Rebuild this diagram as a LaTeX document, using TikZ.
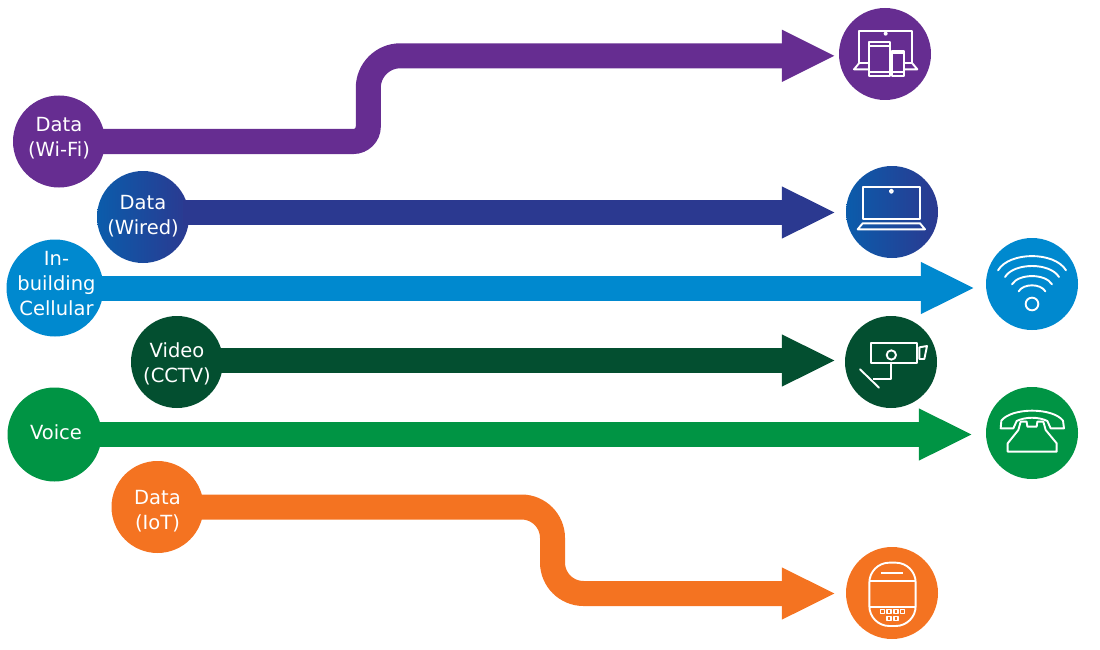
\documentclass[tikz,border=0pt]{standalone}
\usepackage{fontspec}
\setmainfont{DejaVu Sans}
\usetikzlibrary{arrows.meta}
\definecolor{cpurple}{HTML}{662D91}
\definecolor{cindigo}{HTML}{2B3990}
\definecolor{cblue}{HTML}{0B5CAB}
\definecolor{ccyan}{HTML}{0089CF}
\definecolor{cdark}{HTML}{034F30}
\definecolor{cgreen}{HTML}{009444}
\definecolor{corange}{HTML}{F47321}
\newcommand\lbl[2]{\raisebox{#1}[0pt][0pt]{\begin{tabular}{@{}c@{}}#2\end{tabular}}}
\tikzset{
  disc/.style={circle,inner sep=0pt,minimum size=92pt,text=white,
    font=\fontsize{19.5}{25}\selectfont},
  flow/.style={line width=25pt,-{Triangle[width=48pt,length=54pt]},shorten <=-6pt},
  glyph/.style={draw=white,line width=1.9pt,line join=round,fill=none},
  iconat/.style={shift={(#1)},x=0.33333pt,y=-0.33333pt}
}
\begin{document}
\begin{tikzpicture}[x=1pt,y=-1pt]
\useasboundingbox (0,0) rectangle (1100,650);
% left discs
\node[disc,fill=cpurple] (a) at (59,141.5) {\lbl{-2.7pt}{Data\\(Wi-Fi)}};
\node[disc,left color=cblue,right color=cindigo] (b) at (143,217) {\lbl{-5.5pt}{Data\\(Wired)}};
\node[disc,fill=ccyan,minimum size=97pt] (c) at (55,288) {\hspace*{3pt}\lbl{-3pt}{In-\\building\\Cellular}};
\node[disc,fill=cdark] (d) at (177,362) {\lbl{-8pt}{Video\\(CCTV)}};
\node[disc,fill=cgreen,minimum size=94pt] (e) at (54.5,434.5) {\hspace*{3pt}\lbl{-4.8pt}{Voice}};
\node[disc,fill=corange] (f) at (157.5,507) {\lbl{-10.3pt}{Data\\(IoT)}};
% right discs
\node[disc,fill=cpurple] (ta) at (885,54) {};
\node[disc,left color=cblue,right color=cindigo] (tb) at (892,212) {};
\node[disc,fill=ccyan] (tc) at (1032,284) {};
\node[disc,fill=cdark] (td) at (891,362) {};
\node[disc,fill=cgreen] (te) at (1032,433) {};
\node[disc,fill=corange] (tf) at (892,593) {};
% connectors
\coordinate (abend) at (368.3,55.8);
\coordinate (acorner) at (a.east -| abend);
\coordinate (bs) at ([yshift=4.5pt]b.east);
\coordinate (ds) at ([yshift=1.5pt]d.east);
\coordinate (fbend) at (552.5,593.5);
\draw[flow,draw=cpurple,shorten >=3pt] (a.east) [rounded corners=15pt] -- (acorner) [rounded corners=32pt] -- (abend) -- (abend -| ta.west);
\draw[flow,draw=cindigo,shorten >=10pt] (bs) -- (bs -| tb.west);
\draw[flow,draw=ccyan,shorten >=11pt] (c.east) -- (c.east -| tc.west);
\draw[flow,draw=cdark,shorten >=9pt] (ds) -- (ds -| td.west);
\draw[flow,draw=cgreen,shorten >=13pt] (e.east) -- (e.east -| te.west);
\draw[flow,draw=corange,shorten >=10pt,rounded corners=31pt] (f.east) -| (fbend) -- (fbend -| tf.west);
% devices icon
\begin{scope}[iconat={820,0}]
  \draw[glyph] (148,190) -- (117,190) -- (117,92) -- (277,92) -- (277,190) -- (253,190);
  \draw[glyph] (117,190) -- (102,208) -- (148,208);
  \draw[glyph] (277,190) -- (292,208) -- (253,208);
  \fill[white] (197,101) circle[radius=6];
  \draw[glyph] (148,127) rectangle (210,229);
  \draw[glyph] (148,137) -- (210,137) (148,217) -- (210,217);
  \draw[glyph] (216,152) rectangle (253,228);
  \draw[glyph] (216,160) -- (253,160) (216,216) -- (253,216);
\end{scope}
% laptop icon
\begin{scope}[iconat={830,155}]
  \draw[glyph] (98,97) rectangle (270,191);
  \draw[glyph] (184,109) circle[radius=5];
  \draw[glyph] (98,205) -- (270,205) -- (285,223) -- (83,223) -- cycle;
\end{scope}
% wifi icon
\begin{scope}[iconat={830,155},line cap=round]
  \draw[glyph] (504,346) .. controls (538,289) and (674,289) .. (708,346);
  \draw[glyph] (525,366) .. controls (552,322) and (660,322) .. (687,366);
  \draw[glyph] (546,388) .. controls (566,355) and (646,355) .. (666,388);
  \draw[glyph] (566,409) .. controls (580,385) and (632,385) .. (646,409);
  \draw[glyph] (606,447) circle[radius=19];
\end{scope}
% camera icon
\begin{scope}[iconat={830,310}]
  \draw[glyph] (123,98) rectangle (260,158);
  \draw[glyph] (184,135) circle[radius=14];
  \draw[glyph] (268,112) -- (291,108) -- (283,147) -- (268,147) -- cycle;
  \draw[glyph] (184,158) -- (184,208) -- (130,208);
  \draw[glyph,line cap=round] (90,178) -- (147,233);
\end{scope}
% phone icon
\begin{scope}[iconat={830,310}]
  \draw[glyph] (512,355) -- (514,332) .. controls (545,292) and (668,292) .. (699,332) -- (702,355) -- (662,355)
     -- (652,333) .. controls (625,320) and (587,320) .. (560,333) -- (550,355) -- cycle;
  \draw[glyph] (533,425) -- (533,400) -- (565,360) -- (572,335) -- (590,335) -- (592,350) -- (620,350) -- (622,335)
     -- (640,335) -- (647,360) -- (680,400) -- (680,425) -- cycle;
\end{scope}
% IoT device icon
\begin{scope}[iconat={835,540}]
  \draw[glyph,rounded corners=20pt] (103,68) rectangle (242,258);
  \draw[glyph] (106,122) -- (239,122) (106,200) -- (239,200);
  \draw[glyph] (139,100) -- (203,100);
  \foreach \xx/\yy in {143/215,162/215,183/215,203/215,162/235,183/235}
    \draw[glyph,line width=1.2pt] (\xx-6,\yy-6) rectangle (\xx+6,\yy+6);
\end{scope}
\end{tikzpicture}
\end{document}
